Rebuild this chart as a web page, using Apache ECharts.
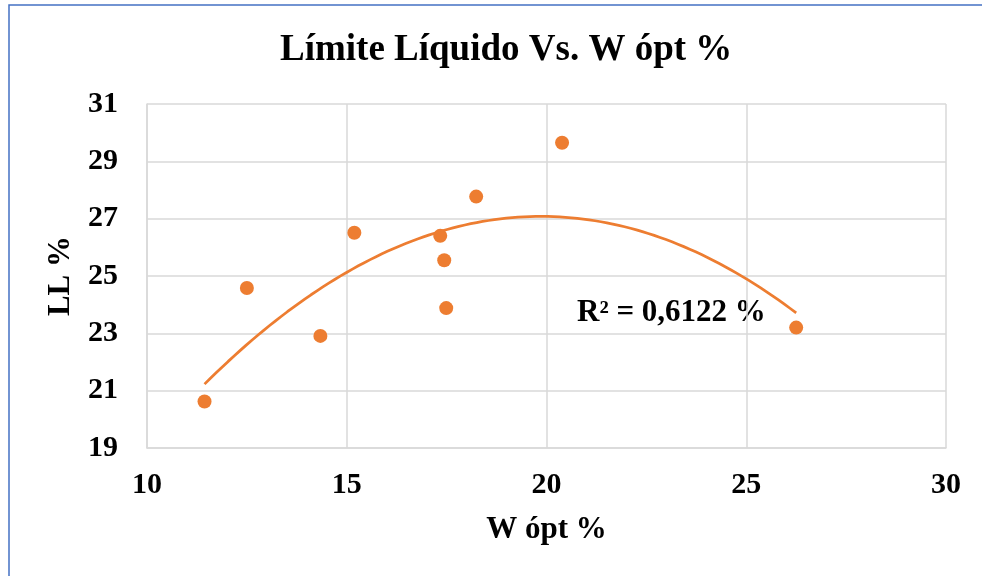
<!DOCTYPE html>
<html>
<head>
<meta charset="utf-8">
<script src="https://cdn.jsdelivr.net/npm/echarts@6/dist/echarts.min.js"></script>
<style>
  html, body { margin: 0; padding: 0; background: #ffffff; }
  #chart { width: 982px; height: 576px; }
</style>
</head>
<body>
<div id="chart"></div>
<script>
// Optimum moisture content (W ópt %) and liquid limit (LL %) per sample
const wOpt = [11.44, 12.50, 14.34, 15.19, 17.34, 17.44, 17.49, 18.24, 20.39, 26.25];
const ll   = [20.62, 24.58, 22.91, 26.51, 26.40, 25.55, 23.88, 27.77, 29.65, 23.20];

const xTicks = [10, 15, 20, 25, 30];
const yTicks = [19, 21, 23, 25, 27, 29, 31];
const r2Label = 'R² = 0,6122 %';

// Second-order least-squares trendline through the samples
function quadFit(xs, ys) {
  const n = xs.length;
  const s = [0, 0, 0, 0, 0], t = [0, 0, 0];
  for (let i = 0; i < n; i++) {
    const x = xs[i], y = ys[i];
    for (let k = 0; k < 5; k++) s[k] += Math.pow(x, k);
    for (let k = 0; k < 3; k++) t[k] += y * Math.pow(x, k);
  }
  const A = [
    [s[0], s[1], s[2], t[0]],
    [s[1], s[2], s[3], t[1]],
    [s[2], s[3], s[4], t[2]]
  ];
  for (let i = 0; i < 3; i++) {
    for (let j = i + 1; j < 3; j++) {
      const f = A[j][i] / A[i][i];
      for (let k = i; k < 4; k++) A[j][k] -= f * A[i][k];
    }
  }
  const c = [0, 0, 0];
  for (let i = 2; i >= 0; i--) {
    let v = A[i][3];
    for (let k = i + 1; k < 3; k++) v -= A[i][k] * c[k];
    c[i] = v / A[i][i];
  }
  return c;
}
const coef = quadFit(wOpt, ll);
const xMin = Math.min(...wOpt), xMax = Math.max(...wOpt);
const trend = [];
for (let i = 0; i <= 100; i++) {
  const x = xMin + (xMax - xMin) * i / 100;
  trend.push([x, coef[0] + coef[1] * x + coef[2] * x * x]);
}

const font = 'Liberation Serif, Times New Roman, serif';
const orange = '#ED7D31';
const gridColor = '#d9d9d9';

const chart = echarts.init(document.getElementById('chart'));
chart.setOption({
  backgroundColor: '#ffffff',
  animation: false,
  title: {
    text: 'Límite Líquido Vs. W ópt %',
    left: 275,
    top: 27,
    textStyle: { fontFamily: font, fontWeight: 'bold', fontSize: 37, color: '#000' }
  },
  grid: { left: 147, top: 104, right: 36, bottom: 128 },
  xAxis: {
    type: 'value',
    min: xTicks[0], max: xTicks[xTicks.length - 1], interval: 5,
    name: 'W ópt %',
    nameLocation: 'middle',
    nameGap: 66,
    nameTextStyle: { fontFamily: font, fontWeight: 'bold', fontSize: 31, color: '#000' },
    axisLine: { show: true, lineStyle: { color: gridColor, width: 1.5 } },
    axisTick: { show: false },
    splitLine: { show: true, lineStyle: { color: gridColor, width: 1.5 } },
    axisLabel: { fontFamily: font, fontWeight: 'bold', fontSize: 30, color: '#000', margin: 22 }
  },
  yAxis: {
    type: 'value',
    min: yTicks[0], max: yTicks[yTicks.length - 1], interval: 2,
    name: 'LL %',
    nameLocation: 'middle',
    nameGap: 71,
    nameRotate: 90,
    nameTextStyle: { fontFamily: font, fontWeight: 'bold', fontSize: 31, color: '#000' },
    axisLine: { show: true, lineStyle: { color: gridColor, width: 1.5 } },
    axisTick: { show: false },
    splitLine: { show: true, lineStyle: { color: gridColor, width: 1.5 } },
    axisLabel: { fontFamily: font, fontWeight: 'bold', fontSize: 30, color: '#000', margin: 29 }
  },
  series: [
    {
      type: 'line',
      data: trend,
      showSymbol: false,
      smooth: false,
      lineStyle: { color: orange, width: 2.75 },
      z: 2
    },
    {
      type: 'scatter',
      data: wOpt.map((x, i) => [x, ll[i]]),
      symbol: 'circle',
      symbolSize: 14,
      itemStyle: { color: orange, opacity: 1 },
      z: 3
    }
  ],
  graphic: [
    {
      type: 'rect',
      shape: { x: 9, y: 5, width: 1000, height: 600 },
      style: { fill: null, stroke: '#4472C4', lineWidth: 1.5 },
      silent: true
    },
    {
      type: 'text',
      left: 577,
      top: 297,
      style: {
        text: r2Label,
        font: 'bold 31px ' + font,
        fill: '#000'
      }
    }
  ]
});
</script>
</body>
</html>
